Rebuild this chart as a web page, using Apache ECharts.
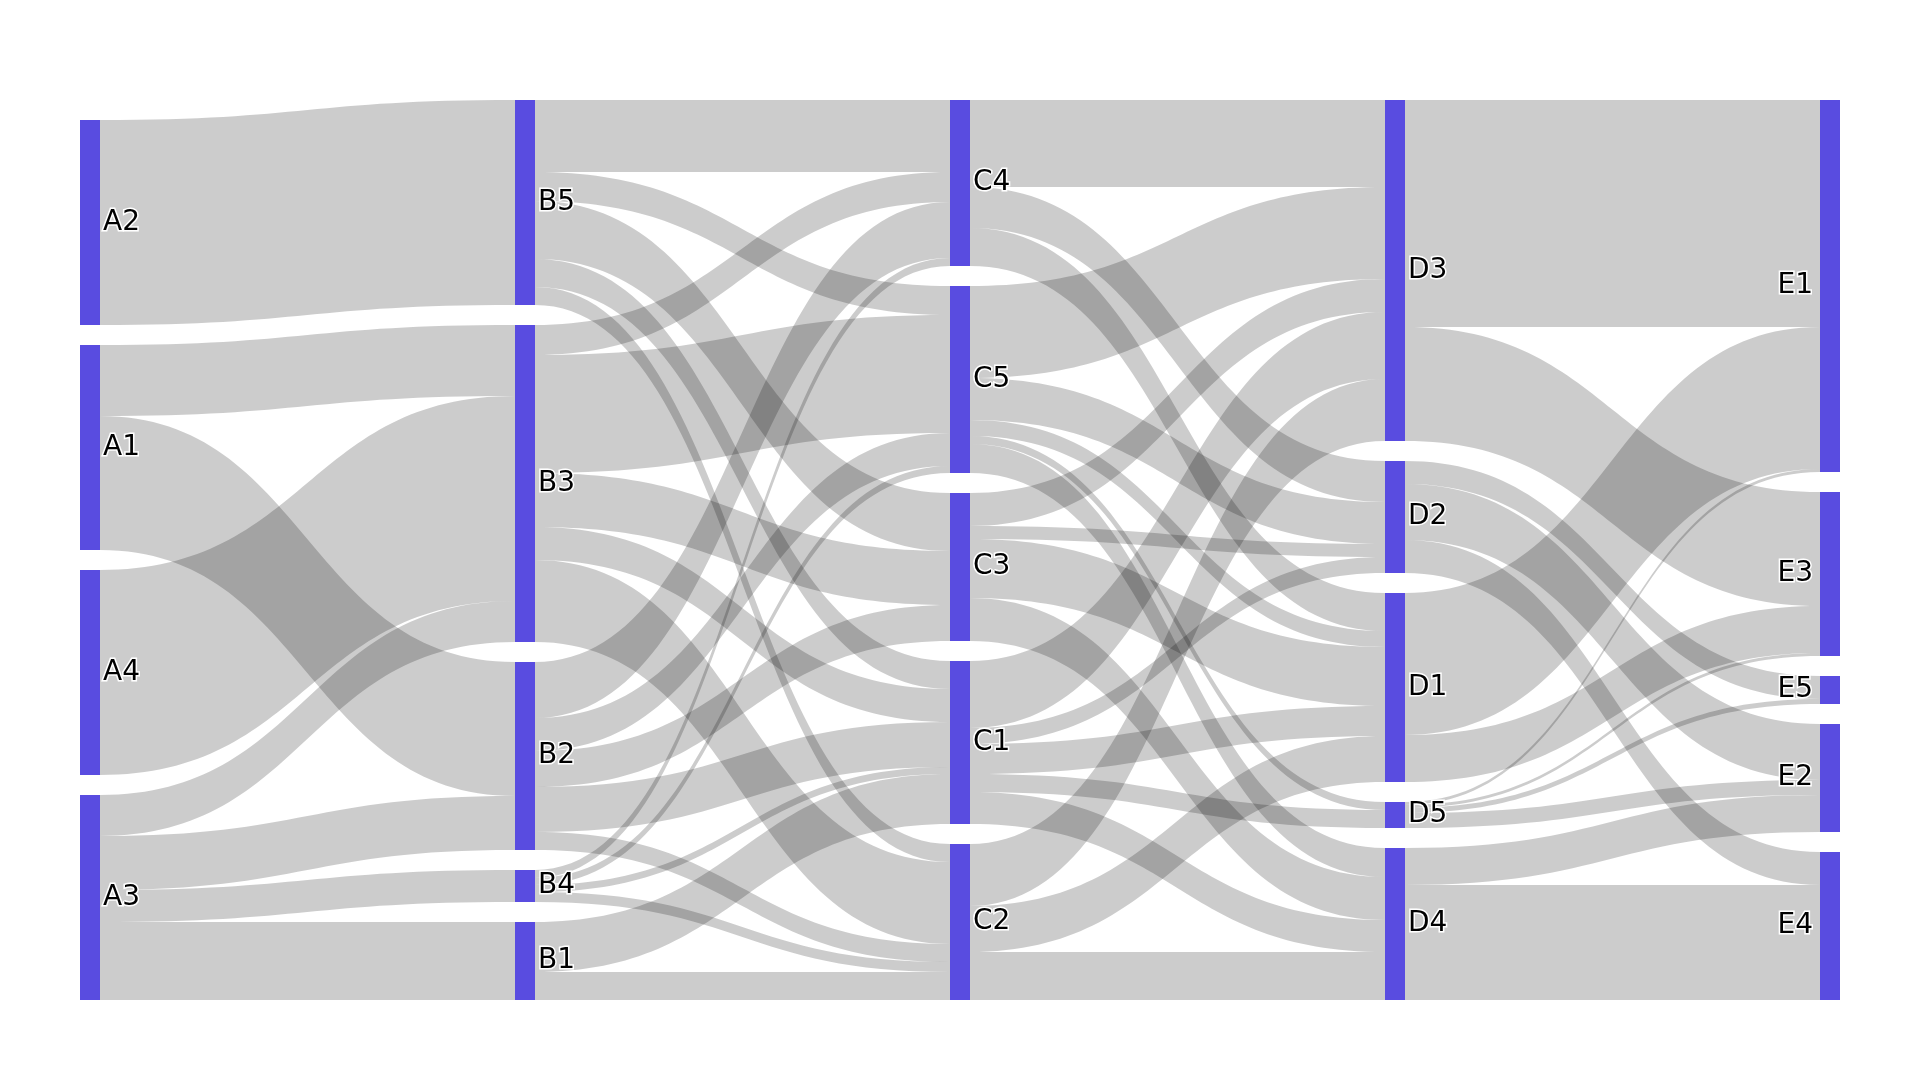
<!DOCTYPE html>
<html>
<head>
<meta charset="utf-8">
<script src="https://cdn.jsdelivr.net/npm/echarts@6/dist/echarts.min.js"></script>
<style>
html,body{margin:0;padding:0;background:#fff;}
#chart{width:1920px;height:1080px;}
</style>
</head>
<body>
<div id="chart"></div>
<script>
// Node names per column, top to bottom
const colA = ['A2', 'A1', 'A4', 'A3'];
const colB = ['B5', 'B3', 'B2', 'B4', 'B1'];
const colC = ['C4', 'C5', 'C3', 'C1', 'C2'];
const colD = ['D3', 'D2', 'D1', 'D5', 'D4'];
const colE = ['E1', 'E3', 'E5', 'E2', 'E4'];

// Flows [source, target, value]
const flowsAB = [
  ['A2', 'B5', 205],
  ['A1', 'B3', 71], ['A1', 'B2', 134],
  ['A4', 'B3', 205],
  ['A3', 'B3', 41], ['A3', 'B2', 54], ['A3', 'B4', 32], ['A3', 'B1', 78]
];
const flowsBC = [
  ['B5', 'C4', 72], ['B5', 'C5', 29], ['B5', 'C3', 58], ['B5', 'C1', 28], ['B5', 'C2', 18],
  ['B3', 'C4', 30], ['B3', 'C5', 118], ['B3', 'C3', 54], ['B3', 'C1', 33], ['B3', 'C2', 82],
  ['B2', 'C4', 56], ['B2', 'C5', 33], ['B2', 'C3', 36], ['B2', 'C1', 45], ['B2', 'C2', 18],
  ['B4', 'C4', 8], ['B4', 'C5', 7], ['B4', 'C1', 7], ['B4', 'C2', 10],
  ['B1', 'C1', 50], ['B1', 'C2', 28]
];
const flowsCD = [
  ['C4', 'D3', 87], ['C4', 'D2', 41], ['C4', 'D1', 38],
  ['C5', 'D3', 92], ['C5', 'D2', 42], ['C5', 'D1', 16], ['C5', 'D5', 8], ['C5', 'D4', 29],
  ['C3', 'D3', 33], ['C3', 'D2', 13], ['C3', 'D1', 59], ['C3', 'D4', 43],
  ['C1', 'D3', 67], ['C1', 'D2', 16], ['C1', 'D1', 30], ['C1', 'D5', 18], ['C1', 'D4', 32],
  ['C2', 'D3', 62], ['C2', 'D1', 46], ['C2', 'D4', 48]
];
const flowsDE = [
  ['D3', 'E1', 227], ['D3', 'E3', 114],
  ['D2', 'E5', 23], ['D2', 'E2', 56], ['D2', 'E4', 33],
  ['D1', 'E1', 142], ['D1', 'E3', 47],
  ['D5', 'E1', 3], ['D5', 'E3', 3], ['D5', 'E5', 5], ['D5', 'E2', 15],
  ['D4', 'E2', 37], ['D4', 'E4', 115]
];

const columns = [colA, colB, colC, colD, colE];
const nodes = [];
// empty, invisible slot at the top of the first column so that the
// shorter first column sits at the bottom of the layout like the reference
nodes.push({
  name: '\u200b', value: 0, depth: 0,
  itemStyle: { opacity: 0 }, label: { show: false }
});
columns.forEach(function (col, ci) {
  const last = ci === columns.length - 1;
  col.forEach(function (name) {
    nodes.push({
      name: name,
      depth: ci,
      label: last ? { position: 'left', align: 'right', distance: 7 } : { position: 'right', align: 'left', distance: 3 }
    });
  });
});
const links = [].concat(flowsAB, flowsBC, flowsCD, flowsDE).map(function (f) {
  return { source: f[0], target: f[1], value: f[2] };
});

const chart = echarts.init(document.getElementById('chart'), null, { renderer: 'canvas' });
chart.setOption({
  backgroundColor: '#ffffff',
  animation: false,
  series: [{
    type: 'sankey',
    left: 80,
    right: 80,
    top: 100,
    bottom: 80,
    nodeWidth: 20,
    nodeGap: 20,
    layoutIterations: 0,
    nodeAlign: 'left',
    draggable: false,
    emphasis: { disabled: true },
    data: nodes,
    links: links,
    itemStyle: { color: '#594ce0', borderWidth: 0, borderColor: 'transparent' },
    lineStyle: { color: '#000000', opacity: 0.2, curveness: 0.5 },
    label: {
      show: true,
      color: '#000000',
      fontFamily: 'DejaVu Sans',
      fontSize: 28,
      textBorderColor: '#ffffff',
      textBorderWidth: 3
    }
  }]
});
</script>
</body>
</html>
